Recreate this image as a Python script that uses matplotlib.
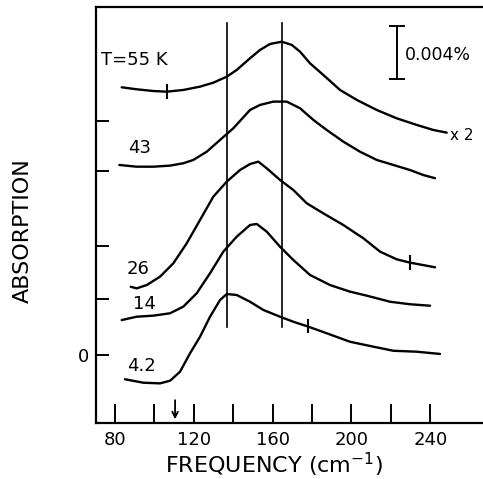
import numpy as np
import matplotlib
matplotlib.use("Agg")
import matplotlib.pyplot as plt

# Spectres (fréquence en cm-1, absorption en unités de 0.001 %, courbes décalées)
f55 = [83.55, 91.15, 99.57, 106.36, 114.78, 123.25, 129.99, 136.78, 141.85, 148.59, 153.66,
       158.73, 164.67, 169.74, 173.94, 179.01, 185.76, 194.22, 202.69, 212.83, 222.97,
       233.11, 241.53, 248.31]
a55 = [20.20, 20.05, 19.92, 19.87, 20.0, 20.25, 20.55, 21.0, 21.51, 22.39, 23.02,
       23.47, 23.64, 23.40, 22.89, 22.01, 21.13, 20.0, 19.25, 18.49, 17.86,
       17.36, 16.98, 16.78]

f43 = [82.33, 91.15, 99.57, 108.04, 114.78, 119.85, 126.64, 133.39, 140.13, 148.59, 153.66,
       160.41, 167.20, 173.94, 180.69, 187.48, 195.89, 204.36, 212.83, 221.24, 229.71,
       236.46, 242.39]
a43 = [14.34, 14.21, 14.21, 14.29, 14.47, 14.72, 15.34, 16.23, 17.11, 18.49, 18.87,
       19.12, 19.12, 18.62, 17.74, 16.98, 16.10, 15.34, 14.72, 14.34, 13.96,
       13.58, 13.34]

f26 = [88.11, 91.15, 96.22, 102.97, 109.71, 116.50, 123.25, 129.99, 136.78, 143.52, 148.59,
       152.80, 157.06, 163.80, 170.55, 177.34, 185.76, 195.89, 206.04, 214.50, 222.97,
       229.71, 242.39]
a26 = [5.15, 5.03, 5.28, 5.91, 6.92, 8.43, 10.19, 11.95, 13.08, 13.96, 14.41,
       14.59, 14.09, 13.21, 12.45, 11.45, 10.69, 9.81, 8.81, 7.80, 7.22,
       6.97, 6.62]

f14 = [83.55, 91.15, 99.57, 108.04, 114.78, 121.57, 128.32, 135.06, 141.85, 148.59, 151.99,
       157.06, 163.80, 170.55, 179.01, 189.15, 199.29, 207.76, 219.57, 229.71, 239.86]
a14 = [2.64, 2.89, 2.97, 3.15, 3.65, 4.66, 6.17, 7.80, 8.93, 9.81, 9.89,
       9.31, 8.17, 7.17, 6.04, 5.28, 4.78, 4.48, 4.02, 3.83, 3.72]

f42 = [85.22, 94.50, 102.97, 108.04, 113.11, 118.18, 123.25, 128.32, 133.39, 136.78, 141.85,
       148.59, 155.34, 163.80, 170.55, 178.15, 187.48, 199.29, 211.10, 221.24, 233.11, 244.92]
a42 = [-1.83, -2.09, -2.14, -1.94, -1.26, 0.13, 1.38, 2.89, 4.15, 4.60, 4.53,
       4.02, 3.40, 2.89, 2.51, 2.14, 1.64, 1.00, 0.63, 0.32, 0.25, 0.08]

# Lignes de base (graduations de gauche)
baselines = [17.66, 13.89, 8.23, 4.23, 0.0]

# Repères verticaux sur les courbes : (fréquence, bas, haut)
marks = [(106.4, 19.4, 20.35), (229.7, 6.5, 7.45), (178.2, 1.7, 2.65)]

# Fréquences des deux lignes verticales
vlines_f = [137.0, 165.0]

labels = ["T=55 K", "43", "26", "14", "4.2"]
label_pos = [(72.9, 22.26), (86.7, 15.62), (86.1, 6.49), (89.3, 3.85), (86.1, -0.83)]

fig = plt.figure(figsize=(4.83, 4.79), dpi=100)
ax = fig.add_axes([0.1988, 0.1169, 0.8012, 0.8685])

for f, a in [(f55, a55), (f43, a43), (f26, a26), (f14, a14), (f42, a42)]:
    ax.plot(f, a, color="black", lw=1.7, solid_capstyle="round", solid_joinstyle="round")

for fv in vlines_f:
    ax.plot([fv, fv], [2.11, 25.06], color="black", lw=1.2)

for fm, y0, y1 in marks:
    ax.plot([fm, fm], [y0, y1], color="black", lw=1.5)

for lab, (x, y) in zip(labels, label_pos):
    ax.text(x, y, lab, fontsize=13, ha="left", va="center")

ax.text(250.0, 16.6, "x 2", fontsize=11, ha="left", va="center")

# Barre d'échelle 0.004 %
ax.plot([223.0, 223.0], [20.81, 24.83], color="black", lw=1.4)
ax.plot([219.5, 226.5], [24.83, 24.83], color="black", lw=1.4)
ax.plot([219.5, 226.5], [20.81, 20.81], color="black", lw=1.4)
ax.text(227.2, 22.6, "0.004%", fontsize=12.5, ha="left", va="center")

# Flèche
ax.annotate("", xy=(110.6, -5.06), xytext=(110.6, -3.2),
            arrowprops=dict(arrowstyle="->", color="black", lw=1.3))

ax.set_xlim(70.52, 266.7)
ax.set_ylim(-5.13, 26.26)

ax.set_xticks([80, 120, 160, 200, 240])
ax.set_xticks([100, 140, 180, 220], minor=True)
ax.set_yticks(baselines)
ax.set_yticklabels(["", "", "", "", "0"])
ax.tick_params(axis="x", which="both", direction="in", length=14, width=1.4,
               labelsize=13, pad=6)
ax.tick_params(axis="y", direction="in", length=9, width=1.4, labelsize=13, pad=5)

ax.spines["right"].set_visible(False)
for s in ["left", "bottom", "top"]:
    ax.spines[s].set_linewidth(1.6)

ax.set_xlabel("FREQUENCY (cm$^{-1}$)", fontsize=16)
ax.xaxis.set_label_coords(0.46, -0.067)
ax.set_ylabel("ABSORPTION", fontsize=16)
ax.yaxis.set_label_coords(-0.163, 0.4615)

fig.savefig("out.png", dpi=100)
